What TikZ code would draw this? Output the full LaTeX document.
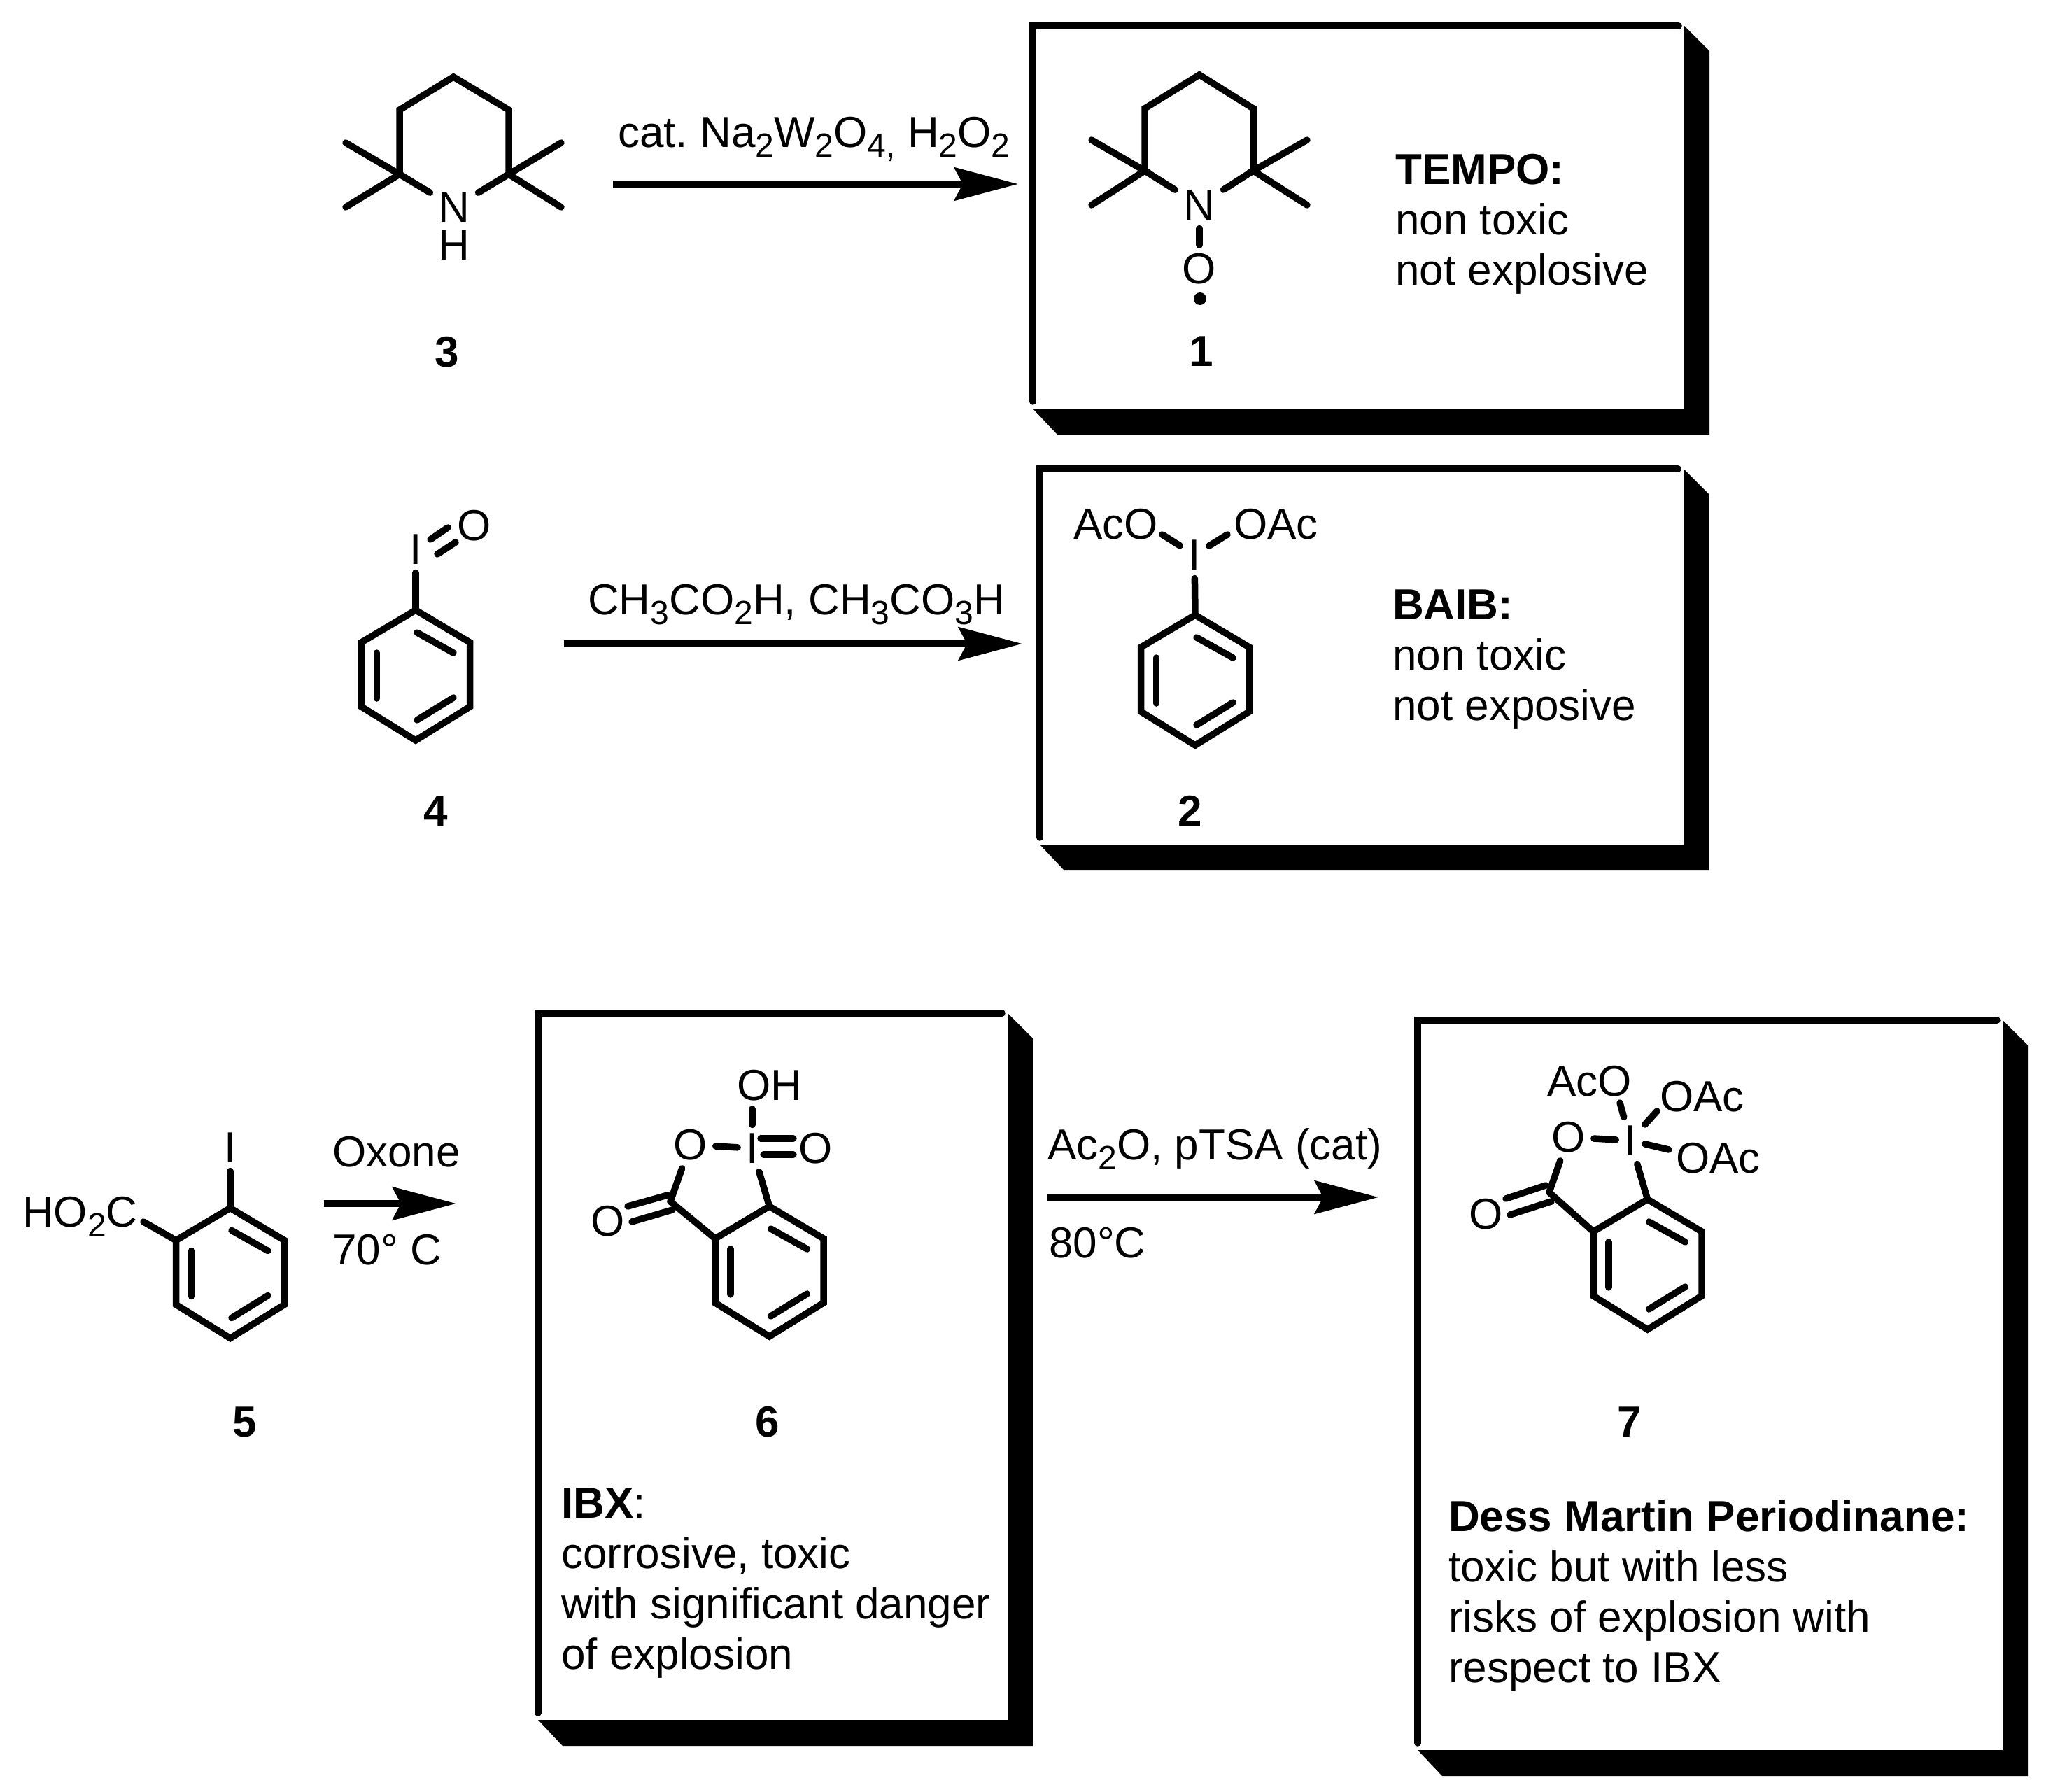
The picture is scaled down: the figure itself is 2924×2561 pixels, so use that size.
\documentclass[tikz,border=0pt]{standalone}
\usepackage{fontspec}
\setmainfont{Liberation Sans}
\usetikzlibrary{arrows.meta}
\frenchspacing
\newcommand{\sbs}[1]{\raisebox{-14pt}{\fontsize{48}{48}\selectfont #1}}
\tikzset{
  bond/.style={line width=9.5pt,line cap=round,line join=miter,black},
  atom/.style={inner sep=12pt,font=\fontsize{62}{62}\selectfont,text depth=0pt},
  lbl/.style={anchor=base west,inner sep=0pt,font=\fontsize{62}{72}\selectfont},
  block/.style={lbl,align=left},
  num/.style={inner sep=0pt,font=\fontsize{62}{62}\selectfont\bfseries},
  rxn/.style={line width=10pt,-{Stealth[length=91pt,width=47pt,inset=12pt]}},
  frame/.style={line width=9.5pt,line cap=round,line join=miter},
}
% prefix, centre x, top y: a benzene ring with its three inner double-bond lines
\newcommand{\benzring}[3]{%
  \begin{scope}[shift={(#2,#3)}]
    \coordinate (#1t) at (0,0);
    \coordinate (#1ur) at (77.5,46);
    \coordinate (#1lr) at (77.5,138);
    \coordinate (#1b) at (0,186);
    \coordinate (#1ll) at (-77.5,138);
    \coordinate (#1ul) at (-77.5,46);
    \coordinate (#1ia) at (-55.5,61);
    \coordinate (#1ib) at (-55.5,126);
    \coordinate (#1ic) at (2,32);
    \coordinate (#1id) at (54,61);
    \coordinate (#1ie) at (2,157);
    \coordinate (#1if) at (54,125);
    \draw[bond] (#1t) -- (#1ur) -- (#1lr) -- (#1b) -- (#1ll) -- (#1ul) -- cycle;
    \draw[bond] (#1ia) -- (#1ib);
    \draw[bond] (#1ic) -- (#1id);
    \draw[bond] (#1ie) -- (#1if);
  \end{scope}}
% left, top, inner right, inner bottom: frame with its black slanted shadow
\newcommand{\shadebox}[4]{%
  \fill[black] (#3,#2) -- (#3+36,#2+36) -- (#3+36,#4+37) -- (#1+35,#4+37) -- (#1,#4) -- (#3,#4) -- cycle;
  \draw[frame] (#1,#4-10) -- (#1,#2) -- (#3-8,#2);}
\begin{document}
\begin{tikzpicture}[x=1pt,y=-1pt]
\useasboundingbox (0,0) rectangle (2924,2561);

% ---------- frames
\shadebox{1476}{37}{2407}{584}
\shadebox{1486}{670}{2406}{1207}
\shadebox{769}{1448}{1440}{2458}
\shadebox{2026}{1458}{2862}{2501}

% ---------- 3
\node[atom,inner ysep=0pt] (n3) at (649,296) {N};
\node[atom,inner sep=0pt] (h3) at (649,350) {H};
\coordinate (c3t) at (648,110);
\coordinate (c3ul) at (571,157);
\coordinate (c3ur) at (727,157);
\coordinate (c3l) at (571,249);
\coordinate (c3r) at (727,249);
\coordinate (m3a) at (494,204);
\coordinate (m3b) at (494,296);
\coordinate (m3c) at (802,204);
\coordinate (m3d) at (802,296);
\draw[bond] (n3) -- (c3l) -- (c3ul) -- (c3t) -- (c3ur) -- (c3r) -- (n3);
\draw[bond] (m3a) -- (c3l) -- (m3b);
\draw[bond] (m3c) -- (c3r) -- (m3d);
\node[num] (l3) at (639,503) {3};

% ---------- arrow 1
\coordinate (a1s) at (876,263);
\coordinate (a1e) at (1455,263);
\draw[rxn] (a1s) -- (a1e);
\node[lbl] (t1) at (883,210) {cat. Na\sbs{2}W\sbs{2}O\sbs{4,} H\sbs{2}O\sbs{2}};

% ---------- 1 TEMPO
\node[atom] (n1) at (1714,293) {N};
\node[atom] (o1) at (1714,384) {O};
\coordinate (c1t) at (1714,107);
\coordinate (c1ul) at (1636,155);
\coordinate (c1ur) at (1791,155);
\coordinate (c1l) at (1636,244);
\coordinate (c1r) at (1791,244);
\coordinate (m1a) at (1560,200);
\coordinate (m1b) at (1560,293);
\coordinate (m1c) at (1868,200);
\coordinate (m1d) at (1868,293);
\draw[bond] (n1) -- (c1l) -- (c1ul) -- (c1t) -- (c1ur) -- (c1r) -- (n1);
\draw[bond] (m1a) -- (c1l) -- (m1b);
\draw[bond] (m1c) -- (c1r) -- (m1d);
\draw[bond] (n1) -- (o1);
\node[circle,fill=black,inner sep=0pt,minimum size=18pt] (rad1) at (1715,427) {};
\node[num] (l1) at (1717,502) {1};
\node[block] (d1) at (1994,407) {\textbf{TEMPO:}\\non toxic\\not explosive};

% ---------- 4
\benzring{r4}{594}{872}
\node[atom] (i4) at (594,785) {I};
\node[atom,inner sep=0pt] (o4) at (678,751) {O};
\coordinate (d4a) at (615,771);
\coordinate (d4b) at (640,754);
\coordinate (d4c) at (625,792);
\coordinate (d4d) at (651,775);
\draw[bond] (i4) -- (r4t);
\draw[bond] (d4a) -- (d4b);
\draw[bond] (d4c) -- (d4d);
\node[num] (l4) at (623,1159) {4};

% ---------- arrow 2
\coordinate (a2s) at (806,920);
\coordinate (a2e) at (1461,920);
\draw[rxn] (a2s) -- (a2e);
\node[lbl] (t2) at (840,878) {CH\sbs{3}CO\sbs{2}H, CH\sbs{3}CO\sbs{3}H};

% ---------- 2 BAIB
\benzring{r2}{1708}{879}
\node[atom] (i2) at (1707,793) {I};
\node[lbl] (aco2) at (1534,770) {AcO};
\node[lbl] (oac2) at (1763,770) {OAc};
\coordinate (b2a) at (1661,764);
\coordinate (b2b) at (1754,764);
\draw[bond] (i2) -- (r2t);
\draw[bond] (b2a) -- (i2);
\draw[bond] (b2b) -- (i2);
\node[num] (l2) at (1701,1159) {2};
\node[block] (d2) at (1990,1029) {\textbf{BAIB:}\\non toxic\\not exposive};

% ---------- 5
\benzring{r5}{329}{1726.5}
\node[atom] (i5) at (329,1640) {I};
\node[lbl] (co5) at (32,1753) {HO\sbs{2}C};
\coordinate (b5) at (205,1746);
\draw[bond] (i5) -- (r5t);
\draw[bond] (b5) -- (r5ul);
\node[num] (l5) at (350,2032) {5};

% ---------- arrow 3
\coordinate (a3s) at (463,1720);
\coordinate (a3e) at (652,1720);
\draw[rxn] (a3s) -- (a3e);
\node[lbl] (t3a) at (475,1667) {Oxone};
\node[lbl] (t3b) at (475,1807) {70° C};

% ---------- 6 IBX
\benzring{r6}{1099.5}{1724}
\node[atom] (i6) at (1075,1641) {I};
\node[atom] (o6r) at (986.5,1636) {O};
\node[atom,inner sep=0pt] (o6e) at (1166,1641) {O};
\node[atom,inner sep=0pt] (o6c) at (868.5,1745) {O};
\node[lbl] (oh6) at (1053,1572) {OH};
\coordinate (c6) at (958,1717);
\coordinate (b6oh) at (1075,1585);
\coordinate (d6a) at (1087,1627);
\coordinate (d6b) at (1134,1627);
\coordinate (d6c) at (1091,1650);
\coordinate (d6d) at (1134,1650);
\coordinate (d6e) at (897,1724);
\coordinate (d6f) at (954,1708);
\coordinate (d6g) at (903,1746);
\coordinate (d6h) at (961,1729);
\draw[bond] (b6oh) -- (i6);
\draw[bond] (o6r) -- (i6);
\draw[bond] (o6r) -- (c6);
\draw[bond] (c6) -- (r6ul);
\draw[bond] (i6) -- (r6t);
\draw[bond] (d6a) -- (d6b);
\draw[bond] (d6c) -- (d6d);
\draw[bond] (d6e) -- (d6f);
\draw[bond] (d6g) -- (d6h);
\node[num] (l6) at (1097,2032) {6};
\node[block] (d6) at (802,2385) {\textbf{IBX}:\\corrosive, toxic\\with significant danger\\of explosion};

% ---------- arrow 4
\coordinate (a4s) at (1496,1711);
\coordinate (a4e) at (1970,1711);
\draw[rxn] (a4s) -- (a4e);
\node[lbl] (t4a) at (1497,1657) {Ac\sbs{2}O, pTSA (cat)};
\node[lbl] (t4b) at (1499,1797) {80°C};

% ---------- 7 Dess-Martin
\benzring{r7}{2354.5}{1714}
\node[atom] (i7) at (2330,1630) {I};
\node[atom] (o7r) at (2241.5,1625) {O};
\node[atom,inner sep=0pt] (o7c) at (2124,1735) {O};
\node[lbl] (aco7) at (2211,1566) {AcO};
\node[lbl] (oac7a) at (2372,1588) {OAc};
\node[lbl] (oac7b) at (2395,1676) {OAc};
\coordinate (c7) at (2214,1704);
\coordinate (b7a) at (2315,1576);
\coordinate (b7b) at (2368,1588);
\coordinate (b7c) at (2385,1643);
\coordinate (d7a) at (2152,1713);
\coordinate (d7b) at (2209,1694);
\coordinate (d7c) at (2158,1736);
\coordinate (d7d) at (2217,1717);
\draw[bond] (b7a) -- (i7);
\draw[bond] (b7b) -- (i7);
\draw[bond] (b7c) -- (i7);
\draw[bond] (o7r) -- (c7);
\draw[bond] (o7r) -- (i7);
\draw[bond] (c7) -- (r7ul);
\draw[bond] (i7) -- (r7t);
\draw[bond] (d7a) -- (d7b);
\draw[bond] (d7c) -- (d7d);
\node[num] (l7) at (2329,2032) {7};
\node[block] (d7) at (2070,2404) {\textbf{Dess Martin Periodinane:}\\toxic but with less\\risks of explosion with\\respect to IBX};
\end{tikzpicture}
\end{document}
